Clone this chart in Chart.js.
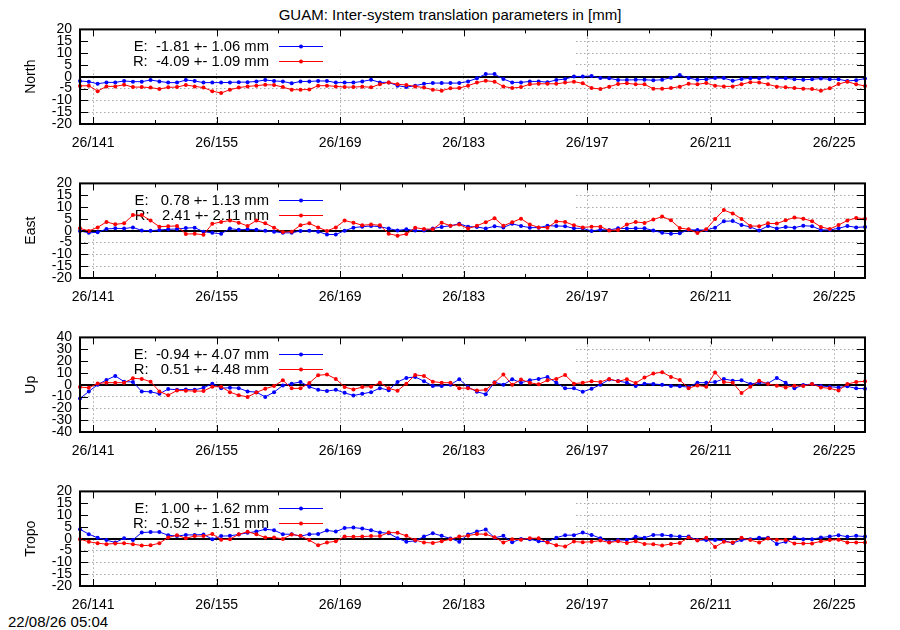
<!DOCTYPE html>
<html>
<head>
<meta charset="utf-8">
<script src="https://cdn.jsdelivr.net/npm/chart.js@4.4.0/dist/chart.umd.min.js"></script>
<style>
  body { margin: 0; background: #fff; }
  #page { position: relative; width: 900px; height: 630px; overflow: hidden;
          font-family: "Liberation Sans", Arial, sans-serif; }
  #page canvas { position: absolute; left: 0; }
  .txt { position: absolute; font-size: 15px; line-height: 15px; white-space: pre; color: #000; }
</style>
</head>
<body>
<div id="page">
  <div class="txt" style="left:0;width:900px;text-align:center;top:7px">GUAM: Inter-system translation parameters in [mm]</div>
  <div class="txt" style="left:8px;top:614px">22/08/26 05:04</div>
</div>
<script>
// day of year (noon epochs), one solution per day
const days = [
  139.5,140.5,141.5,142.5,143.5,144.5,145.5,146.5,147.5,148.5,
  149.5,150.5,151.5,152.5,153.5,154.5,155.5,156.5,157.5,158.5,
  159.5,160.5,161.5,162.5,163.5,164.5,165.5,166.5,167.5,168.5,
  169.5,170.5,171.5,172.5,173.5,174.5,175.5,176.5,177.5,178.5,
  179.5,180.5,181.5,182.5,183.5,184.5,185.5,186.5,187.5,188.5,
  189.5,190.5,191.5,192.5,193.5,194.5,195.5,196.5,197.5,198.5,
  199.5,200.5,201.5,202.5,203.5,204.5,205.5,206.5,207.5,208.5,
  209.5,210.5,211.5,212.5,213.5,214.5,215.5,216.5,217.5,218.5,
  219.5,220.5,221.5,222.5,223.5,224.5,225.5,226.5,227.5,228.5
];
const tickDays = [141, 155, 169, 183, 197, 211, 225];
const minorDays = [148, 162, 176, 190, 204, 218];
const yearPrefix = "26/";

// E = Galileo, R = GLONASS  (mm)
const northE = [
  -1.8,-2.1,-3.0,-2.4,-2.4,-1.8,-2.1,-2.1,-1.4,-2.0,-2.5,-2.5,-1.4,-1.8,-2.5,-2.5,-2.5,-2.4,-2.3,-2.3,
  -2.0,-1.4,-1.8,-2.0,-2.8,-2.0,-2.0,-1.8,-1.8,-2.5,-2.5,-2.5,-2.0,-1.3,-2.4,-2.4,-3.8,-4.4,-3.8,-3.0,
  -2.7,-2.7,-2.7,-2.7,-2.0,-0.7,1.1,1.1,-1.0,-2.4,-2.4,-2.0,-2.0,-2.3,-1.4,-1.0,0.1,0.1,0.3,-0.6,
  -0.7,-1.4,-1.4,-1.3,-1.3,-1.5,-1.3,-0.4,0.7,-0.6,-1.3,-1.1,-0.6,-0.6,-1.7,-1.0,-0.7,-0.7,-0.3,-0.7,
  -0.7,-1.1,-1.3,-1.1,-0.8,-1.1,-1.1,-1.8,-1.5,-0.8
];
const northR = [
  -3.9,-3.8,-6.1,-4.1,-4.1,-3.4,-4.4,-4.4,-4.6,-5.2,-4.5,-4.4,-3.5,-4.1,-4.6,-6.1,-6.9,-5.5,-4.6,-4.1,
  -3.8,-3.4,-3.5,-4.4,-5.5,-5.5,-5.4,-3.8,-3.8,-4.1,-4.4,-4.4,-4.2,-4.5,-3.2,-2.4,-3.2,-3.5,-4.1,-4.6,
  -5.5,-5.9,-4.9,-4.8,-3.8,-2.5,-1.7,-2.1,-4.1,-4.8,-4.4,-3.2,-3.0,-3.0,-3.0,-2.5,-2.1,-2.8,-4.8,-5.2,
  -4.2,-3.1,-2.8,-3.2,-3.2,-5.1,-5.1,-4.8,-4.2,-3.0,-3.2,-2.7,-3.8,-4.1,-4.1,-3.2,-2.3,-2.4,-3.2,-4.2,
  -4.5,-4.8,-5.1,-5.2,-5.9,-4.9,-3.1,-2.1,-3.2,-3.9
];
const eastE = [
  -0.1,-0.9,-0.7,0.7,1.0,0.9,1.4,0.1,0.0,0.3,0.6,0.7,1.1,1.3,-0.4,-0.9,-1.3,0.9,0.4,0.6,
  0.4,0.0,-0.4,-0.9,-0.9,-0.1,0.0,-0.4,-1.6,-1.6,0.0,1.3,1.7,2.0,1.7,0.9,0.1,0.6,0.1,0.1,
  0.9,1.6,2.1,2.9,1.7,1.6,0.9,1.9,1.4,2.9,2.0,1.3,1.3,2.1,2.0,1.9,1.0,1.0,-0.1,0.4,
  0.3,1.0,0.9,1.0,1.0,0.1,-0.9,-1.3,-1.1,0.4,0.3,0.3,1.3,4.0,4.1,2.4,1.6,0.1,2.0,0.9,
  1.6,1.3,2.1,1.9,0.3,0.3,1.0,2.0,1.4,1.6
];
const eastR = [
  1.0,-0.1,1.4,3.7,2.7,3.1,6.6,6.6,4.3,1.7,1.9,2.0,-1.4,-1.3,-1.7,2.9,3.7,4.3,3.4,2.0,
  4.3,3.1,1.3,-0.6,-0.4,2.3,3.1,1.4,-0.1,1.4,4.3,3.4,2.3,2.6,2.3,-1.3,-2.1,-1.4,1.3,0.7,
  0.6,3.4,2.1,2.6,0.9,2.1,3.6,5.3,2.1,3.6,5.1,2.6,1.4,1.3,3.9,3.7,2.3,1.4,1.7,1.7,
  0.1,0.3,2.6,3.7,3.3,4.7,6.0,4.4,1.1,0.6,-1.0,0.6,4.9,8.7,7.3,5.0,2.0,1.9,3.1,3.0,
  4.4,5.6,5.1,4.0,1.6,0.7,2.4,4.3,5.4,5.1
];
const upE = [
  -11.7,-5.7,0.0,4.0,7.4,2.6,2.3,-5.7,-6.0,-7.7,-3.7,-4.3,-4.0,-4.3,-2.6,0.9,-2.9,-2.6,-2.9,-5.7,
  -6.3,-10.3,-6.3,-0.6,0.9,2.3,-1.7,-4.3,-5.4,-4.3,-6.9,-9.1,-7.7,-6.3,-2.9,-4.6,2.3,5.7,6.6,2.9,
  -1.1,-1.1,0.0,4.6,-2.0,-6.0,-8.0,2.0,0.0,4.6,1.7,3.7,4.9,6.6,1.7,-3.1,-3.1,-6.0,-3.4,0.0,
  4.3,3.1,1.7,-1.1,0.9,0.6,0.0,-1.1,-1.4,-2.0,1.7,1.7,2.3,4.9,3.4,3.7,0.6,1.7,1.1,5.7,
  1.7,-3.1,-0.3,0.6,-1.1,-1.7,-2.3,-1.4,-3.1,-3.4
];
const upR = [
  -2.0,-2.6,1.1,1.7,1.7,1.7,5.4,4.9,2.6,-5.7,-8.9,-4.9,-5.1,-5.4,-5.4,-1.7,-1.7,-6.3,-8.9,-10.3,
  -6.6,-3.4,-1.1,3.7,-3.1,-3.1,1.4,8.0,8.6,4.9,-2.0,-4.0,-2.0,-1.7,1.7,-3.1,-5.1,0.9,8.3,7.4,
  2.6,1.7,1.7,-2.9,-2.9,-4.9,-4.3,1.7,8.6,0.0,4.3,1.7,0.3,3.7,4.9,8.3,0.9,1.7,2.9,2.3,
  4.9,2.9,4.6,1.4,6.0,9.4,10.6,6.6,4.0,-2.9,-0.6,-1.7,10.3,2.3,1.7,-7.1,-1.7,3.4,0.6,-0.9,
  -2.3,-0.9,-1.1,0.6,-2.3,-3.1,-4.9,0.6,2.3,2.9
];
const tropoE = [
  4.0,1.9,0.4,-0.6,-1.6,0.2,-0.5,2.6,2.8,2.8,1.5,1.1,1.6,1.6,1.8,-0.2,1.1,1.2,1.8,2.5,
  3.0,4.0,3.6,1.9,1.9,1.1,1.9,2.0,3.5,3.0,4.5,4.7,4.3,3.6,2.6,2.3,0.2,-1.3,-0.9,0.9,
  2.3,1.2,0.1,-1.3,1.8,3.0,3.9,0.4,1.2,-1.5,-0.1,-0.2,-1.1,-1.3,0.4,1.5,1.5,2.6,1.6,0.2,
  -1.3,-0.5,-0.6,0.8,0.4,1.6,1.6,1.2,0.9,0.9,-0.6,-0.6,-0.6,-0.8,-1.8,-0.6,-0.2,0.4,0.4,-2.2,
  -1.3,0.5,-0.2,-0.2,0.5,0.9,1.5,0.8,1.2,0.9
];
const tropoR = [
  -0.2,-1.3,-1.9,-2.3,-2.0,-1.9,-2.3,-2.9,-2.8,-1.9,0.5,1.5,0.2,1.1,1.1,2.0,-0.4,-0.2,1.9,2.9,
  1.9,0.5,0.5,-0.1,1.8,1.2,-0.6,-2.8,-1.6,-1.1,0.9,0.8,0.9,1.1,1.1,2.6,2.5,1.2,-0.6,-1.6,
  -1.8,-1.1,-0.2,0.9,1.3,2.0,1.9,0.6,-1.6,-0.2,-0.4,0.2,0.2,-1.6,-2.8,-3.3,-1.2,-1.5,-1.3,-0.8,
  -1.6,-1.1,-1.8,-1.1,-2.2,-2.3,-2.9,-2.2,-1.8,0.5,-0.8,0.4,-3.5,-1.3,-1.6,0.4,-0.6,-1.6,0.1,-0.4,
  -0.5,-2.0,-2.0,-2.0,-1.1,-0.6,-0.4,-1.6,-1.6,-1.6
];

const panelNames = ["North", "East", "Up", "Tropo"];
const keyE = ["E:  -1.81 +- 1.06 mm", "E:   0.78 +- 1.13 mm", "E:  -0.94 +- 4.07 mm", "E:   1.00 +- 1.62 mm"];
const keyR = ["R:  -4.09 +- 1.09 mm", "R:   2.41 +- 2.11 mm", "R:   0.51 +- 4.48 mm", "R:  -0.52 +- 1.51 mm"];
const yLimits = [20, 20, 40, 20];
const ySteps = [5, 5, 10, 5];
const seriesE = [northE, eastE, upE, tropoE];
const seriesR = [northR, eastR, upR, tropoR];

const FONT = '"Liberation Sans", Arial, sans-serif';
const BLUE = '#0000ff', RED = '#ff0000';
const GRID = '#a8a8a8';
const panelTops = [29, 183, 337, 491];
const PLOT_H = 95, XAXIS_H = 30, KEY_RIGHT = 573;

Chart.defaults.font.family = FONT;
Chart.defaults.font.size = 14;
Chart.defaults.color = '#000';

// gnuplot-like frame: opaque key box, zero axis, key, border and inward ticks
const gnuFrame = {
  id: 'gnuFrame',
  beforeDatasetsDraw(chart, args, opts) {
    const { ctx, chartArea: a, scales: { y } } = chart;
    ctx.save();
    ctx.fillStyle = '#fff';
    ctx.fillRect(a.left + 1, a.top + 1, KEY_RIGHT - a.left, 40);

    const y0 = Math.round(y.getPixelForValue(0));
    ctx.strokeStyle = '#000';
    ctx.lineWidth = 2;
    ctx.beginPath();
    ctx.moveTo(a.left, y0);
    ctx.lineTo(a.right, y0);
    ctx.stroke();

    ctx.font = '14.8px ' + FONT;
    ctx.textAlign = 'right';
    ctx.textBaseline = 'middle';
    opts.rows.forEach((row, k) => {
      const ry = Math.round(a.top + 17 + k * 14.5) + 0.5;
      ctx.fillStyle = '#000';
      ctx.fillText(row.text, 269, ry);
      ctx.strokeStyle = row.color;
      ctx.lineWidth = 1;
      ctx.beginPath();
      ctx.moveTo(279, ry);
      ctx.lineTo(323, ry);
      ctx.stroke();
      ctx.fillStyle = row.color;
      ctx.beginPath();
      ctx.arc(301, ry, 2, 0, Math.PI * 2);
      ctx.fill();
    });
    ctx.restore();
  },
  afterDatasetsDraw(chart) {
    const { ctx, chartArea: a, scales: { x, y } } = chart;
    ctx.save();
    ctx.strokeStyle = '#000';
    ctx.lineWidth = 1;
    ctx.beginPath();
    y.ticks.forEach(t => {
      if (t.value <= y.min || t.value >= y.max) return;
      const py = Math.round(y.getPixelForValue(t.value)) + 0.5;
      ctx.moveTo(a.left, py); ctx.lineTo(a.left + 8, py);
      ctx.moveTo(a.right, py); ctx.lineTo(a.right - 8, py);
    });
    tickDays.forEach(d => {
      const px = Math.round(x.getPixelForValue(d)) + 0.5;
      ctx.moveTo(px, a.top); ctx.lineTo(px, a.top + 7);
      ctx.moveTo(px, a.bottom); ctx.lineTo(px, a.bottom - 7);
    });
    minorDays.forEach(d => {
      const px = Math.round(x.getPixelForValue(d)) + 0.5;
      ctx.moveTo(px, a.top); ctx.lineTo(px, a.top + 4);
      ctx.moveTo(px, a.bottom); ctx.lineTo(px, a.bottom - 4);
    });
    ctx.stroke();
    ctx.lineWidth = 2;
    ctx.strokeRect(a.left, a.top, a.right - a.left, a.bottom - a.top);
    ctx.restore();
  }
};

const page = document.getElementById('page');

panelNames.forEach((name, p) => {
  const canvas = document.createElement('canvas');
  canvas.width = 900;
  canvas.height = 140;
  page.appendChild(canvas);

  const gridColor = c => (c.tick && (c.tick.value === 0)) ? 'rgba(0,0,0,0)' : GRID;
  const toPoints = arr => arr.map((v, i) => ({ x: days[i], y: v }));
  const lineStyle = color => ({
    borderColor: color, backgroundColor: color, borderWidth: 1,
    pointRadius: 2, pointHoverRadius: 2, pointBorderWidth: 0,
    tension: 0, clip: false
  });

  const chart = new Chart(canvas, {
    type: 'line',
    data: {
      datasets: [
        Object.assign({ label: 'E', data: toPoints(seriesE[p]), order: 1 }, lineStyle(BLUE)),
        Object.assign({ label: 'R', data: toPoints(seriesR[p]), order: 0 }, lineStyle(RED))
      ]
    },
    options: {
      responsive: false,
      maintainAspectRatio: false,
      animation: false,
      events: [],
      layout: { padding: { top: 0, left: 0, right: 35, bottom: 0 } },
      plugins: {
        legend: { display: false },
        tooltip: { enabled: false },
        gnuFrame: { rows: [{ text: keyE[p], color: BLUE }, { text: keyR[p], color: RED }] }
      },
      scales: {
        x: {
          type: 'linear',
          min: days[0],
          max: days[days.length - 1],
          afterBuildTicks: s => { s.ticks = tickDays.map(v => ({ value: v })); },
          afterFit: s => { s.height = XAXIS_H; },
          ticks: { autoSkip: false, maxRotation: 0, padding: 11, callback: v => yearPrefix + v },
          grid: { color: GRID, lineWidth: 1, drawTicks: false },
          border: { display: false, dash: [1.5, 2.5] }
        },
        y: {
          min: -yLimits[p],
          max: yLimits[p],
          afterFit: s => { s.width = 80; },
          ticks: { stepSize: ySteps[p], autoSkip: false, padding: 8 },
          title: { display: true, text: name, padding: { top: 23, bottom: 0 } },
          grid: { color: gridColor, lineWidth: 1, drawTicks: false },
          border: { display: false, dash: [1.5, 2.5] }
        }
      }
    },
    plugins: [gnuFrame]
  });

  // place the canvas so the plot box lands where the reference has it
  const top = chart.chartArea.top;
  chart.resize(900, Math.round(top + PLOT_H + XAXIS_H));
  canvas.style.top = Math.round(panelTops[p] - top) + 'px';
});
</script>
</body>
</html>
